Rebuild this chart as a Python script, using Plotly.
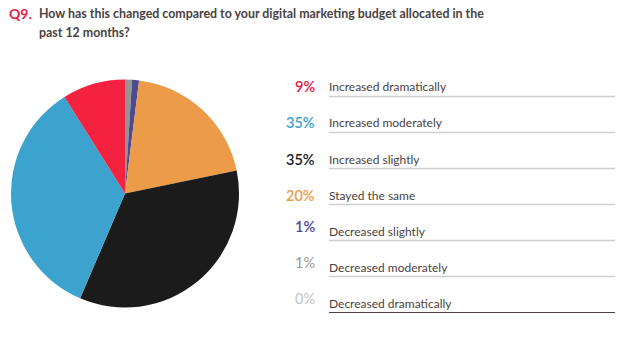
import plotly.graph_objects as go

categories = ["Increased dramatically", "Increased moderately", "Increased slightly",
              "Stayed the same", "Decreased slightly", "Decreased moderately",
              "Decreased dramatically"]
values = [9, 35, 35, 20, 1, 1, 0]
pct_labels = ["9%", "35%", "35%", "20%", "1%", "1%", "0%"]
slice_colors = ["#F4213F", "#3BA3CD", "#1B1B1B", "#EC9C48", "#4E4A8E", "#959595", "#C8C8C8"]
pct_colors = ["#E4203F", "#3BA3CD", "#1B1B1B", "#EC9C48", "#4E4A8E", "#9A9A9A", "#C4C4C4"]

W, H = 637, 349
fig = go.Figure()
# pie drawn clockwise from 12 o'clock in reverse legend order
fig.add_trace(go.Pie(
    labels=categories[::-1], values=values[::-1], sort=False, direction="clockwise",
    rotation=0, marker=dict(colors=slice_colors[::-1], line=dict(width=0)),
    textinfo="none", hoverinfo="label+percent", showlegend=False,
    domain=dict(x=[11 / W, 239 / W], y=[1 - 307.5 / H, 1 - 79.5 / H]),
))

def py(y):
    return 1 - y / H

annotations = []
shapes = []
title_font = "Lato, sans-serif"
annotations.append(dict(x=7 / W, y=py(13), xref="paper", yref="paper", xanchor="left",
                        yanchor="middle", showarrow=False, text="<b>Q9.</b>",
                        font=dict(family=title_font, size=14, color="#E4203F")))
annotations.append(dict(x=37 / W, y=py(13), xref="paper", yref="paper", xanchor="left",
                        yanchor="middle", showarrow=False,
                        text="<b>How has this changed compared to your digital marketing budget allocated in the</b>",
                        font=dict(family=title_font, size=12.4, color="#4A4242")))
annotations.append(dict(x=37 / W, y=py(32), xref="paper", yref="paper", xanchor="left",
                        yanchor="middle", showarrow=False, text="<b>past 12 months?</b>",
                        font=dict(family=title_font, size=12.4, color="#4A4242")))

for i, (cat, pl, pc) in enumerate(zip(categories, pct_labels, pct_colors)):
    yc = 87 + 36 * i
    pdy = 0 if i < 4 else -5
    annotations.append(dict(x=317 / W, y=py(yc + pdy), xref="paper", yref="paper",
                            xanchor="right", yanchor="middle", showarrow=False,
                            text=pl, font=dict(family="Lato, sans-serif", size=14.5, color=pc,
                                               weight=600 if i < 5 else 400)))
    annotations.append(dict(x=327 / W, y=py(yc), xref="paper", yref="paper",
                            xanchor="left", yanchor="middle", showarrow=False,
                            text=cat, font=dict(family="Lato, sans-serif", size=12, color="#4A4242")))
    last = i == len(categories) - 1
    shapes.append(dict(type="line", xref="paper", yref="paper", x0=329 / W, x1=615 / W,
                       y0=py(yc + 9.5), y1=py(yc + 9.5),
                       line=dict(color="#4A3F3A" if last else "#CFCFCF", width=1.2 if last else 1.5)))

fig.update_layout(width=W, height=H, margin=dict(l=0, r=0, t=0, b=0),
                  paper_bgcolor="white", plot_bgcolor="white",
                  annotations=annotations, shapes=shapes)
fig.write_html("out.html")
